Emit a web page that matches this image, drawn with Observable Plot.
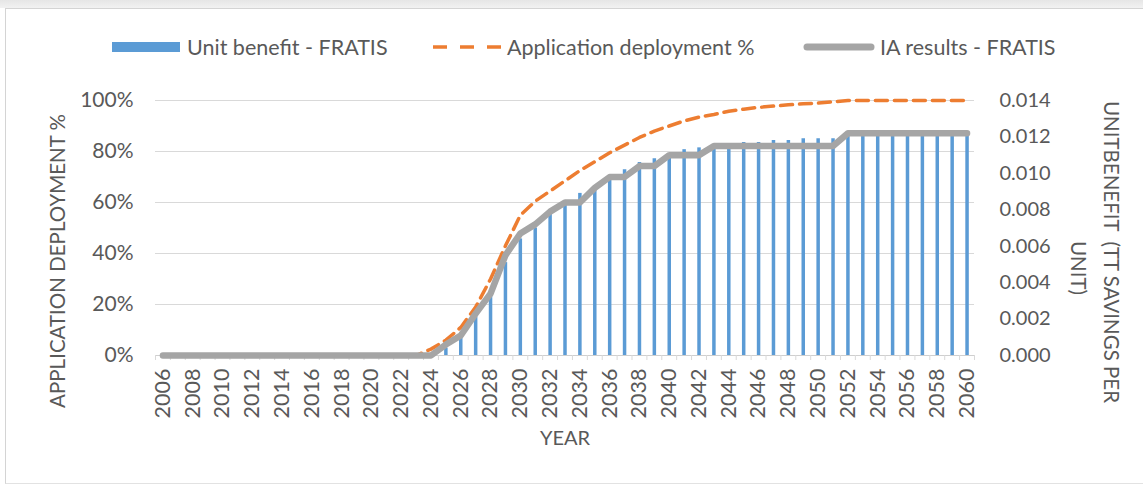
<!DOCTYPE html>
<html>
<head>
<meta charset="utf-8">
<script src="https://cdn.jsdelivr.net/npm/d3@7"></script>
<script src="https://cdn.jsdelivr.net/npm/@observablehq/plot@0.6"></script>
<style>
  html, body { margin: 0; padding: 0; background: #fff; }
  #wrap { position: relative; width: 1143px; height: 485px; overflow: hidden; font-family: Lato, "Open Sans", sans-serif; color: #595959; }
  #topband { position: absolute; left: 0; top: 0; width: 1143px; height: 8px; background: linear-gradient(#e6e6e6, #f2f2f2); }
  #frame { position: absolute; left: 5px; top: 8px; width: 1160px; height: 474px; border-left: 1px solid #d4d4d4; border-top: 1px solid #d4d4d4; border-bottom: 1px solid #e2e2e2; }
  #chart { position: absolute; left: 0; top: 0; }
  .leg { position: absolute; font-size: 21.5px; line-height: 26px; top: 34px; white-space: nowrap; }
  .sw { position: absolute; }
</style>
</head>
<body>
<div id="wrap">
  <div id="topband"></div>
  <div id="frame"></div>
  <div id="chart"></div>
  <div id="legend"></div>
</div>
<script>
// ---- data ----
const years = [2006,2007,2008,2009,2010,2011,2012,2013,2014,2015,2016,2017,2018,2019,2020,2021,2022,2023,2024,2025,2026,2027,2028,2029,2030,2031,2032,2033,2034,2035,2036,2037,2038,2039,2040,2041,2042,2043,2044,2045,2046,2047,2048,2049,2050,2051,2052,2053,2054,2055,2056,2057,2058,2059,2060];

// Unit benefit - FRATIS (right axis, TT savings per unit)
const unitBenefit = [0,0,0,0,0,0,0,0,0,0,0,0,0,0,0,0,0,0,0,
  0.0004,0.0010,0.0021,0.0033,0.0051,0.0064,0.0070,0.0078,0.0083,0.0089,
  0.0093,0.0098,0.0102,0.0106,0.0108,0.0110,0.0113,0.0114,0.0115,0.0116,
  0.0117,0.0117,0.0118,0.0118,0.0119,0.0119,0.0119,
  0.0121,0.0121,0.0121,0.0121,0.0121,0.0121,0.0121,0.0121,0.0121];

// Application deployment % (left axis)
const deployment = [0,0,0,0,0,0,0,0,0,0,0,0,0,0,0,0,0,0,
  0.025,0.06,0.11,0.19,0.30,0.43,0.55,0.605,0.645,0.685,0.725,
  0.76,0.795,0.825,0.855,0.88,0.90,0.92,0.935,0.945,0.958,
  0.966,0.973,0.978,0.983,0.987,0.99,0.995,
  1,1,1,1,1,1,1,1,1];

// IA results - FRATIS (right axis)
const iaResults = [0,0,0,0,0,0,0,0,0,0,0,0,0,0,0,0,0,0,0,
  0.0006,0.0011,0.0023,0.0034,0.0055,0.0067,0.0072,0.0079,0.0084,0.0084,
  0.0092,0.0098,0.0098,0.0104,0.0104,0.0110,0.0110,0.0110,0.0115,0.0115,
  0.0115,0.0115,0.0115,0.0115,0.0115,0.0115,0.0115,
  0.0122,0.0122,0.0122,0.0122,0.0122,0.0122,0.0122,0.0122,0.0122];

const leftTicks = [0, 0.2, 0.4, 0.6, 0.8, 1.0];
const rightTicks = [0, 0.002, 0.004, 0.006, 0.008, 0.010, 0.012, 0.014];
const rightMax = 0.014;            // right axis top aligned with 100% on left axis
const labelYears = [2006,2008,2010,2012,2014,2016,2018,2020,2022,2024,2026,2028,2030,2032,2034,2036,2038,2040,2042,2044,2046,2048,2050,2052,2054,2056,2058,2060];
const xTitle = "YEAR";
const yLeftTitle = "APPLICATION DEPLOYMENT %";
const yRightTitle1 = "UNITBENEFIT  (TT SAVINGS PER";
const yRightTitle2 = "UNIT)";
const legendItems = ["Unit benefit - FRATIS", "Application deployment %", "IA results - FRATIS"];

const BLUE = "#5B9BD5", ORANGE = "#ED7D31", GRAY = "#A5A5A5", TXT = "#595959", GRID = "#d9d9d9";

const rows = years.map((y, i) => ({year: y, benefit: unitBenefit[i] / rightMax, dep: deployment[i], ia: iaResults[i] / rightMax}));
const boundaries = years.map(y => y - 0.5).concat([years[years.length - 1] + 0.5]);

const chart = Plot.plot({
  width: 1143,
  height: 485,
  marginLeft: 155,
  marginRight: 169,
  marginTop: 100,
  marginBottom: 130,
  style: {fontFamily: "Lato, 'Open Sans', sans-serif", color: TXT, background: "transparent", overflow: "visible"},
  x: {domain: [2005.5, 2060.5], axis: null},
  y: {domain: [0, 1], axis: null},
  marks: [
    Plot.ruleY(leftTicks.slice(1), {stroke: GRID, strokeWidth: 1}),
    Plot.ruleY([0], {stroke: "#cfcfcf", strokeWidth: 1.2}),
    Plot.axisX({ticks: boundaries, tickSize: 5, tickFormat: () => "", stroke: GRID, label: null}),
    Plot.axisX({ticks: labelYears, tickSize: 0, tickPadding: 13, tickRotate: -90, fontSize: 21.5, fill: TXT, tickFormat: d => String(d), label: null}),
    Plot.axisY({ticks: leftTicks, tickSize: 0, tickPadding: 22, fontSize: 21, fill: TXT, tickFormat: d => Math.round(d * 100) + "%", label: null}),
    Plot.axisY({anchor: "right", ticks: rightTicks.map(v => v / rightMax), tickSize: 0, tickPadding: 25, fontSize: 20, fill: TXT, tickFormat: d => (d * rightMax).toFixed(3), label: null}),
    Plot.ruleX(rows, {x: "year", y1: 0, y2: "benefit", stroke: BLUE, strokeWidth: 3.5}),
    Plot.line(rows, {x: "year", y: "dep", stroke: ORANGE, strokeWidth: 3.5, strokeDasharray: "12,7"}),
    Plot.line(rows, {x: "year", y: "ia", stroke: GRAY, strokeWidth: 6.5, strokeLinejoin: "round"}),
    Plot.text([yLeftTitle], {frameAnchor: "left", textAnchor: "middle", dx: -97, dy: 33, rotate: -90, fontSize: 20.5, fill: TXT}),
    Plot.text([yRightTitle1], {frameAnchor: "right", textAnchor: "middle", dx: 136, dy: 24, rotate: 90, fontSize: 20.5, fill: TXT}),
    Plot.text([yRightTitle2], {frameAnchor: "right", textAnchor: "middle", dx: 103, dy: 40, rotate: 90, fontSize: 20.5, fill: TXT}),
    Plot.text([xTitle], {frameAnchor: "bottom", dy: 89, fontSize: 20, fill: TXT})
  ]
});
document.getElementById("chart").appendChild(chart);

// ---- legend (HTML above the SVG) ----
const leg = document.getElementById("legend");
leg.innerHTML = `
  <div class="sw" style="left:112px;top:42px;width:68px;height:10px;background:${BLUE}"></div>
  <div class="leg" style="left:187px">${legendItems[0]}</div>
  <svg class="sw" style="left:431px;top:40px" width="72" height="14"><line x1="2" y1="7" x2="70" y2="7" stroke="${ORANGE}" stroke-width="3.5" stroke-dasharray="14,13"/></svg>
  <div class="leg" style="left:507px">${legendItems[1]}</div>
  <svg class="sw" style="left:800px;top:40px" width="78" height="14"><line x1="7" y1="7" x2="71" y2="7" stroke="${GRAY}" stroke-width="7" stroke-linecap="round"/></svg>
  <div class="leg" style="left:880px">${legendItems[2]}</div>
`;
</script>
</body>
</html>
